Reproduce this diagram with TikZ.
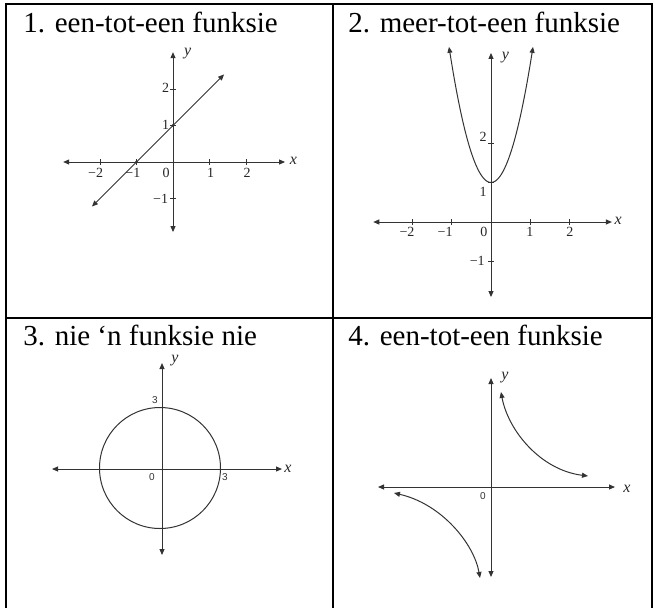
\documentclass[tikz,border=0pt]{standalone}
\usepackage{fontspec}
\setmainfont{Liberation Serif}
\newfontfamily\labsans{Liberation Sans}
\usetikzlibrary{arrows.meta}
\tikzset{every picture/.style={line width=0.75pt}}
\tikzset{
  axis/.style={line width=1pt, black!80, {Triangle[length=6pt,width=5pt]}-{Triangle[length=6pt,width=5pt]}},
  curve/.style={line width=1pt, black!80, {Triangle[length=6pt,width=5pt]}-{Triangle[length=6pt,width=5pt]}},
  tickmark/.style={line width=0.8pt, black!80},
  rule/.style={line width=2.4pt, black},
  heading/.style={anchor=base west, inner sep=0pt, font=\fontsize{29}{29}\selectfont},
  ticklab/.style={inner sep=0pt, font=\fontsize{14}{14}\selectfont, black!85},
  axlab/.style={inner sep=0pt, font=\fontsize{16}{16}\selectfont\itshape, black!85},
  tinylab/.style={inner sep=0pt, font=\labsans\fontsize{10}{10}\selectfont, black!80}
}

\begin{document}
\begin{tikzpicture}[x=1pt, y=-1pt]
    \useasboundingbox (0,0) rectangle (655,608);

    % tabel
    \draw[rule] (6,4) -- (652,4);
    \draw[rule] (6,318) -- (652,318);
    \draw[rule] (6,3) -- (6,608);
    \draw[rule] (333,3) -- (333,608);
    \draw[rule] (652,3) -- (652,608);

    % opskrifte
    \node[heading] (h1) at (23,32) {1. een-tot-een funksie};
    \node[heading] (h2) at (348,32) {2. meer-tot-een funksie};
    \node[heading] (h3) at (23,345) {3. nie ‘n funksie nie};
    \node[heading] (h4) at (348,345) {4. een-tot-een funksie};

    % grafiek 1: reguit lyn
    \begin{scope}[shift={(173,162)}, x=36.5pt, y=36.5pt]
        \draw[axis] (-3.01,0) -- (3.07,0);
        \draw[axis] (0,-1.92) -- (0,3.01);
        \foreach \t in {-2,-1,1,2}
            \draw[tickmark] (\t,-0.08) -- (\t,0.08);
        \foreach \t in {-1,1,2}
            \draw[tickmark] (-0.08,\t) -- (0.08,\t);
        \fill[black!80] (-1,0) circle (1.6pt);
        \fill[black!80] (0,1) circle (1.6pt);
        \draw[curve] (-2.22,-1.22) -- (1.4,2.4);
        \node[axlab] (g1x) at (3.3,0.02) {x};
        \node[axlab] (g1y) at (0.4,2.96) {y};
        \node[ticklab] (g1a) at (-2.12,-0.3) {−2};
        \node[ticklab] (g1b) at (-1.1,-0.3) {−1};
        \node[ticklab] (g1c) at (-0.19,-0.3) {0};
        \node[ticklab] (g1d) at (1.03,-0.3) {1};
        \node[ticklab] (g1e) at (2.03,-0.3) {2};
        \node[ticklab] (g1f) at (-0.2,2.03) {2};
        \node[ticklab] (g1g) at (-0.2,1.01) {1};
        \node[ticklab] (g1h) at (-0.34,-1.01) {−1};
    \end{scope}

    % grafiek 2: parabool
    \begin{scope}[shift={(491,222)}, x=39.25pt, y=39.5pt]
        \draw[axis] (-3.0,0) -- (3.08,0);
        \draw[axis] (0,-1.9) -- (0,4.28);
        \foreach \t in {-2,-1,1,2}
            \draw[tickmark] (\t,-0.08) -- (\t,0.08);
        \foreach \t in {-1,1,2}
            \draw[tickmark] (-0.08,\t) -- (0.08,\t);
        \draw[curve] plot[domain=-1.07:1.07, samples=60, smooth] (\x,{3*\x*\x+1});
        \node[axlab] (g2x) at (3.24,0.02) {x};
        \node[axlab] (g2y) at (0.37,4.16) {y};
        \node[ticklab] (g2a) at (-2.14,-0.26) {−2};
        \node[ticklab] (g2b) at (-1.17,-0.26) {−1};
        \node[ticklab] (g2c) at (-0.18,-0.26) {0};
        \node[ticklab] (g2d) at (0.99,-0.26) {1};
        \node[ticklab] (g2e) at (2.01,-0.26) {2};
        \node[ticklab] (g2f) at (-0.2,2.15) {2};
        \node[ticklab] (g2g) at (-0.2,0.76) {1};
        \node[ticklab] (g2h) at (-0.35,-0.99) {−1};
    \end{scope}

    % grafiek 3: sirkel
    \draw[axis] (52,469) -- (282,469);
    \draw[axis] (162,555) -- (162,363);
    \draw[line width=1pt, black!80] (160,468) circle (60.5);
    \node[axlab] (g3x) at (288,469) {x};
    \node[axlab] (g3y) at (175,361) {y};
    \node[tinylab] (g3a) at (155,400) {3};
    \node[tinylab] (g3b) at (152,477) {0};
    \node[tinylab] (g3c) at (225,477) {3};

    % grafiek 4: hiperbool
    \draw[axis] (378,487) -- (615,487);
    \draw[axis] (491,577) -- (491,378);
    \draw[curve] (501,392) .. controls (508,430) and (540,470) .. (588,476);
    \draw[curve] (394,493) .. controls (442,504) and (474,544) .. (480,578);
    \node[axlab] (g4x) at (627,489) {x};
    \node[axlab] (g4y) at (505,378) {y};
    \node[tinylab] (g4o) at (483,496) {0};
\end{tikzpicture}
\end{document}
